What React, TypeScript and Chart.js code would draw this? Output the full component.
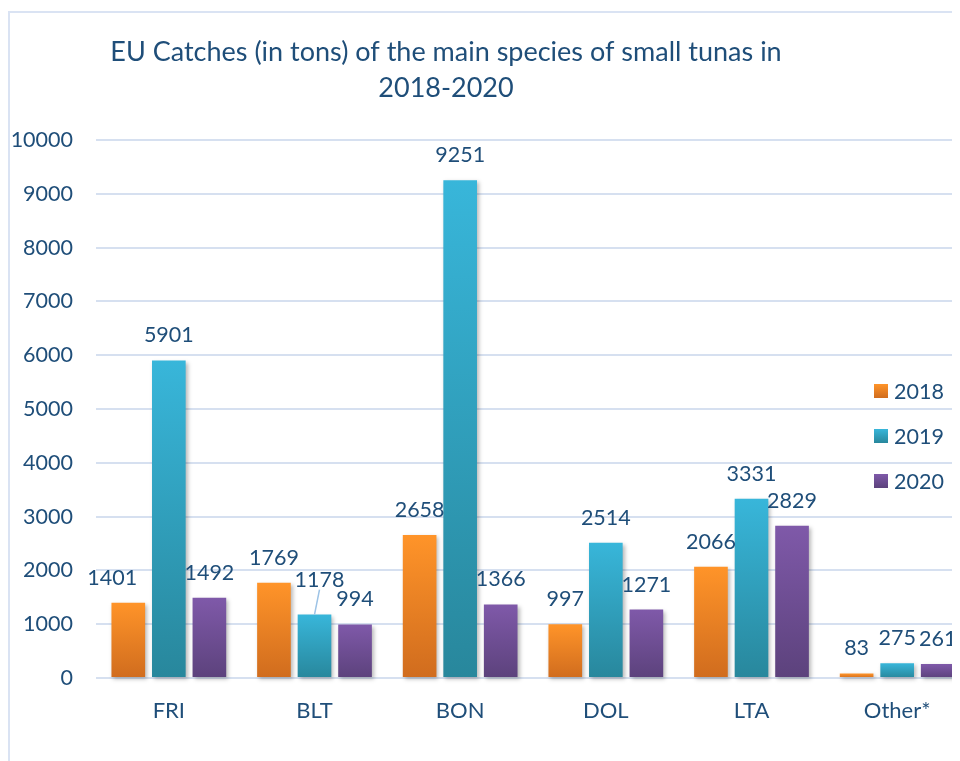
import React, { useEffect, useRef } from "react";
import { Chart, registerables } from "chart.js";

Chart.register(...registerables);

// Species groups and yearly EU catches (tons)
const categories = ["FRI", "BLT", "BON", "DOL", "LTA", "Other*"];
const years = ["2018", "2019", "2020"];
const catches2018 = [1401, 1769, 2658, 997, 2066, 83];
const catches2019 = [5901, 1178, 9251, 2514, 3331, 275];
const catches2020 = [1492, 994, 1366, 1271, 2829, 261];
const yMin = 0;
const yMax = 10000;
const yStep = 1000;

const titleLines = ["EU Catches (in tons) of the main species of small tunas in", "2018-2020"];

const FONT = "Lato, 'Open Sans', sans-serif";
const TEXT = "#1F4E79";
const GRID = "#D6E0F0";

// top / bottom colours of each series' vertical gradient
const palette: [string, string][] = [
  ["#FF9429", "#D06C1E"],
  ["#38B6DA", "#28879C"],
  ["#7F59A9", "#5C427C"],
];

// label nudges for crowded spots: "dataset:index" -> [dx, dy, leader line]
const labelNudges: Record<string, [number, number, boolean]> = {
  "0:0": [-16, 0, false],
  "1:1": [5, -10, true],
};

function gradientFill(top: string, bottom: string) {
  return (ctx: any) => {
    const chart = ctx.chart;
    const y = chart.scales && chart.scales.y;
    if (!y || ctx.type !== "data" || !chart.chartArea) return top;
    const yTop = y.getPixelForValue(ctx.raw);
    const yBase = y.getPixelForValue(0);
    if (!isFinite(yTop) || !isFinite(yBase) || yTop === yBase) return top;
    const g = chart.ctx.createLinearGradient(0, yTop, 0, yBase);
    g.addColorStop(0, top);
    g.addColorStop(1, bottom);
    return g;
  };
}

const decorPlugin = {
  id: "decor",
  beforeDatasetsDraw(chart: any) {
    const c = chart.ctx;
    c.save();
    c.shadowColor = "rgba(0,0,0,0.28)";
    c.shadowBlur = 4;
    c.shadowOffsetX = 2;
    c.shadowOffsetY = 2;
  },
  afterDatasetsDraw(chart: any) {
    const c = chart.ctx;
    c.restore();
    c.save();
    c.font = `21.5px ${FONT}`;
    c.fillStyle = TEXT;
    c.textAlign = "center";
    c.textBaseline = "middle";
    chart.data.datasets.forEach((ds: any, di: number) => {
      const meta = chart.getDatasetMeta(di);
      meta.data.forEach((el: any, i: number) => {
        const nudge = labelNudges[`${di}:${i}`] || [0, 0, false];
        const lx = el.x + nudge[0];
        const ly = el.y - 25 + nudge[1];
        c.fillText(String(ds.data[i]), lx, ly);
        if (nudge[2]) {
          c.strokeStyle = "#9DC3E6";
          c.lineWidth = 1.5;
          c.beginPath();
          c.moveTo(lx, ly + 10);
          c.lineTo(el.x, el.y);
          c.stroke();
        }
      });
    });
    c.restore();
  },
  afterDraw(chart: any) {
    const c = chart.ctx;
    const area = chart.chartArea;
    c.save();
    // title
    c.font = `27px ${FONT}`;
    c.fillStyle = TEXT;
    c.textAlign = "center";
    c.textBaseline = "alphabetic";
    const tx = 438;
    c.fillText(titleLines[0], tx, 53);
    c.fillText(titleLines[1], tx, 89);
    // legend
    c.font = `21.5px ${FONT}`;
    c.textAlign = "left";
    c.textBaseline = "middle";
    const lx = area.right - 96;
    chart.data.datasets.forEach((ds: any, di: number) => {
      const cy = 383 + di * 45;
      const g = c.createLinearGradient(0, cy - 7, 0, cy + 7);
      g.addColorStop(0, palette[di][0]);
      g.addColorStop(1, palette[di][1]);
      c.fillStyle = g;
      c.fillRect(lx, cy - 7, 14, 14);
      c.fillStyle = TEXT;
      c.fillText(ds.label, lx + 20, cy + 1);
    });
    c.restore();
  },
};

export default function App() {
  const ref = useRef<HTMLCanvasElement | null>(null);

  useEffect(() => {
    if (!ref.current) return;
    const series = [catches2018, catches2019, catches2020];
    const chart = new Chart(ref.current, {
      type: "bar",
      data: {
        labels: categories,
        datasets: series.map((values, i) => ({
          label: years[i],
          data: values,
          backgroundColor: gradientFill(palette[i][0], palette[i][1]),
          borderWidth: 0,
          categoryPercentage: 0.835,
          barPercentage: 0.83,
          clip: false as any,
        })),
      },
      options: {
        responsive: false,
        animation: false,
        layout: { padding: { left: 0, top: 132, right: 18, bottom: 0 } },
        plugins: {
          legend: { display: false },
          title: { display: false },
          tooltip: { enabled: false },
        },
        scales: {
          x: {
            grid: { display: false, drawTicks: false },
            border: { display: false },
            ticks: { color: TEXT, font: { family: FONT, size: 22 }, padding: 20 },
            afterFit: (s: any) => {
              s.height = 83;
            },
          },
          y: {
            min: yMin,
            max: yMax,
            ticks: {
              stepSize: yStep,
              color: TEXT,
              font: { family: FONT, size: 21.5 },
              padding: 23,
              callback: (v: any) => String(v),
            },
            grid: { color: GRID, lineWidth: 2, drawTicks: false },
            border: { display: false },
            afterFit: (s: any) => {
              s.width = 88;
            },
          },
        },
      },
      plugins: [decorPlugin],
    });
    return () => chart.destroy();
  }, []);

  return (
    <div style={{ position: "relative", width: 952, height: 753, overflow: "hidden" }}>
      <div
        style={{
          position: "absolute",
          left: 0,
          top: 3,
          width: 1100,
          height: 900,
          borderLeft: "2px solid #DAE3F3",
          borderTop: "2px solid #DAE3F3",
        }}
      />
      <canvas
        ref={ref}
        width={980}
        height={753}
        style={{ position: "absolute", left: 0, top: 0, width: 980, height: 753 }}
      />
    </div>
  );
}
